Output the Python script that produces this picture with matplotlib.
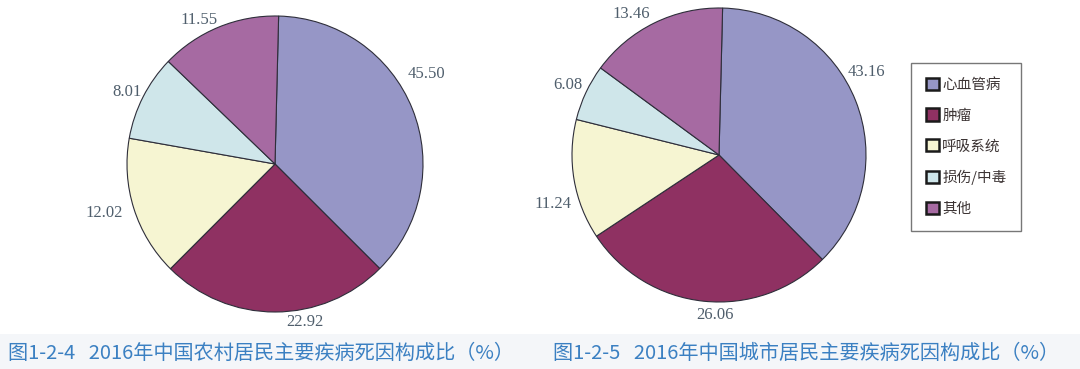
import numpy as np
import matplotlib.pyplot as plt
from matplotlib.patches import Patch, Rectangle

plt.rcParams['font.family'] = ['Noto Sans CJK SC', 'DejaVu Sans']

causes = ['心血管病', '肿瘤', '呼吸系统', '损伤/中毒', '其他']
# printed values (%)
rural = [45.50, 22.92, 12.02, 8.01, 11.55]
urban = [43.16, 26.06, 11.24, 6.08, 13.46]
# the original figure's wedges are not drawn to the printed values;
# these are the shares (%)
rural_drawn = [37.1, 25.0, 15.3, 9.4, 13.2]
urban_drawn = [37.2, 28.1, 13.2, 6.2, 15.3]
rural_title = '图1-2-4   2016年中国农村居民主要疾病死因构成比（%）'
urban_title = '图1-2-5   2016年中国城市居民主要疾病死因构成比（%）'

colors = ['#9696c6', '#8f3162', '#f6f5d2', '#cfe6ea', '#a66aa2']

W, H = 1080, 369
fig = plt.figure(figsize=(W / 100, H / 100), dpi=100)

# caption band at bottom
fig.patches.append(Rectangle((0, 0), 1, 35 / H, transform=fig.transFigure,
                             facecolor='#f4f6f9', edgecolor='none', zorder=0))


def draw_pie(drawn, values, cx, cy, r, label_angles, label_dist):
    ax = fig.add_axes([(cx - r) / W, (H - cy - r) / H, 2 * r / W, 2 * r / H])
    ax.pie(drawn, colors=colors, startangle=88.6, counterclock=False,
           wedgeprops=dict(edgecolor='#2e2e3a', linewidth=0.8))
    ax.set_xlim(-1, 1)
    ax.set_ylim(-1, 1)
    for v, a, d in zip(values, label_angles, label_dist):
        t = np.deg2rad(a)
        ax.text(d * np.cos(t), d * np.sin(t), '%.2f' % v,
                ha='center', va='center', fontsize=12, color='#4f5e6c',
                family='Liberation Serif')
    ax.axis('off')
    return ax


draw_pie(rural_drawn, rural, 275, 164, 148,
         [30.8, -79.2, -164, 154, 117.8], [1.19, 1.085, 1.20, 1.11, 1.10])
draw_pie(urban_drawn, urban, 719, 155, 147,
         [29.5, -91.4, -163.6, 155.1, 121.7], [1.15, 1.09, 1.18, 1.13, 1.13])

fig.text(8 / W, (H - 353) / H, rural_title, fontsize=14.5, color='#3b80c2',
         va='center', ha='left')
fig.text(553 / W, (H - 353) / H, urban_title, fontsize=14.5, color='#3b80c2',
         va='center', ha='left')

handles = [Patch(facecolor=c, edgecolor='#1a1a1a', linewidth=1.8) for c in colors]
leg = fig.legend(handles, causes, loc='upper left',
                 bbox_to_anchor=(911 / W, (H - 63) / H),
                 fontsize=10.5, frameon=True, fancybox=False,
                 edgecolor='#555555', labelspacing=1.15,
                 handlelength=0.9, handleheight=0.9, handletextpad=0.25,
                 borderpad=1.0, borderaxespad=0)
leg.get_frame().set_linewidth(1.0)
for t in leg.get_texts():
    t.set_color('#3d3535')

fig.savefig('out.png', dpi=100)
